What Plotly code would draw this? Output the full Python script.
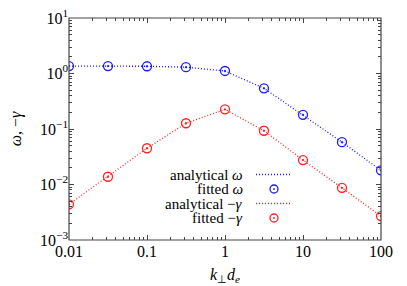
import plotly.graph_objects as go

k = [0.01, 0.0316, 0.1, 0.316, 1, 3.16, 10, 31.6, 100]
omega = [1.36, 1.36, 1.35, 1.30, 1.11, 0.54, 0.18, 0.058, 0.018]
gamma = [0.0044, 0.0138, 0.045, 0.127, 0.226, 0.093, 0.0276, 0.0087, 0.0027]

x_ticks = [0.01, 0.1, 1, 10, 100]
x_ticktext = ["0.01", "0.1", "1", "10", "100"]
y_ticks = [1e-3, 1e-2, 1e-1, 1, 10]
y_ticktext = ["10<sup>−3</sup>", "10<sup>−2</sup>", "10<sup>−1</sup>", "10<sup>0</sup>", "10<sup>1</sup>"]

legend_labels = ["analytical <i>ω</i>", "fitted <i>ω</i>", "analytical −<i>γ</i>", "fitted −<i>γ</i>"]

x_minor = [m * 10.0 ** e for e in range(-2, 2) for m in range(2, 10)]
y_minor = [m * 10.0 ** e for e in range(-3, 1) for m in range(2, 10)]

BLUE = "#1a1aff"
RED = "#ff2020"
AX = "#444444"
FONT = "Liberation Serif"
DOT = "1px,2px"

fig = go.Figure()
fig.add_trace(go.Scatter(x=k, y=omega, mode="lines", line=dict(color=BLUE, dash=DOT, width=1.3)))
fig.add_trace(go.Scatter(x=k, y=gamma, mode="lines", line=dict(color=RED, dash=DOT, width=1.3)))
fig.add_trace(go.Scatter(x=k, y=omega, mode="markers",
                         marker=dict(symbol="circle-open-dot", size=9, color=BLUE, line=dict(width=1.3))))
fig.add_trace(go.Scatter(x=k, y=gamma, mode="markers",
                         marker=dict(symbol="circle-open-dot", size=9, color=RED, line=dict(width=1.3))))
# invisible traces to activate tick-only overlay axes
for n in (2, 3, 4):
    fig.add_trace(go.Scatter(x=k, y=omega, mode="markers", xaxis=f"x{n}", yaxis=f"y{n}",
                             marker=dict(opacity=0), hoverinfo="skip"))

# legend (gnuplot style: text then sample)
W, H = 407, 286
L, R, T, B = 69, 26, 18, 46
pw, ph = W - L - R, H - T - B
def px(x): return (x - L) / pw
def py(y): return 1 - (y - T) / ph

rows = [174.5, 189, 203.5, 218]
colors = [BLUE, BLUE, RED, RED]
for i, (lab, c, yy) in enumerate(zip(legend_labels, colors, rows)):
    fig.add_annotation(x=px(245), y=py(yy), xref="paper", yref="paper", text=lab,
                       showarrow=False, xanchor="right", yanchor="middle",
                       font=dict(family=FONT, size=15, color="black"))
    if i % 2 == 0:
        fig.add_shape(type="line", xref="paper", yref="paper", x0=px(256), x1=px(292),
                      y0=py(yy), y1=py(yy), line=dict(color=c, dash=DOT, width=1.3))
    else:
        fig.add_shape(type="circle", xref="paper", yref="paper", x0=px(270), x1=px(278),
                      y0=py(yy - 4), y1=py(yy + 4), line=dict(color=c, width=1.3))
        fig.add_shape(type="circle", xref="paper", yref="paper", x0=px(273.5), x1=px(274.5),
                      y0=py(yy - 0.5), y1=py(yy + 0.5), line=dict(color=c, width=1), fillcolor=c)

# frame
fig.add_shape(type="rect", xref="paper", yref="paper", x0=0, x1=1, y0=0, y1=1,
              line=dict(color=AX, width=1.2), layer="above")

base = dict(type="log", showgrid=False, zeroline=False, showline=False, automargin=False,
            ticks="inside", tickcolor=AX, tickwidth=1)
lab = dict(tickfont=dict(family=FONT, size=16, color="black"))
nolab = dict(showticklabels=False)

fig.update_layout(
    xaxis=dict(range=[-2, 2], tickvals=x_ticks, ticktext=x_ticktext, ticklen=5,
               title=dict(text="<i>k</i><sub>⊥</sub><i>d</i><sub><i>e</i></sub>",
                          font=dict(family=FONT, size=16, color="black"), standoff=9),
               **base, **lab),
    yaxis=dict(range=[-3, 1], tickvals=y_ticks, ticktext=y_ticktext, ticklen=5,
               title=dict(text="<i>ω</i>, −<i>γ</i>", font=dict(family=FONT, size=16, color="black"),
                          standoff=14),
               **base, **lab),
    xaxis2=dict(range=[-2, 2], tickvals=x_minor, ticklen=3, overlaying="x", side="bottom", **base, **nolab),
    yaxis2=dict(range=[-3, 1], tickvals=y_minor, ticklen=3, overlaying="y", side="left", **base, **nolab),
    xaxis3=dict(range=[-2, 2], tickvals=x_ticks, ticklen=5, overlaying="x", side="top", **base, **nolab),
    yaxis3=dict(range=[-3, 1], tickvals=y_ticks, ticklen=5, overlaying="y", side="right", **base, **nolab),
    xaxis4=dict(range=[-2, 2], tickvals=x_minor, ticklen=3, overlaying="x", side="top", **base, **nolab),
    yaxis4=dict(range=[-3, 1], tickvals=y_minor, ticklen=3, overlaying="y", side="right", **base, **nolab),
    width=W, height=H, margin=dict(l=L, r=R, t=T, b=B),
    plot_bgcolor="white", paper_bgcolor="white", showlegend=False,
)

fig.write_html("out.html", config={"displayModeBar": False},
               post_script="document.body.style.margin='0';document.body.style.overflow='hidden';")
